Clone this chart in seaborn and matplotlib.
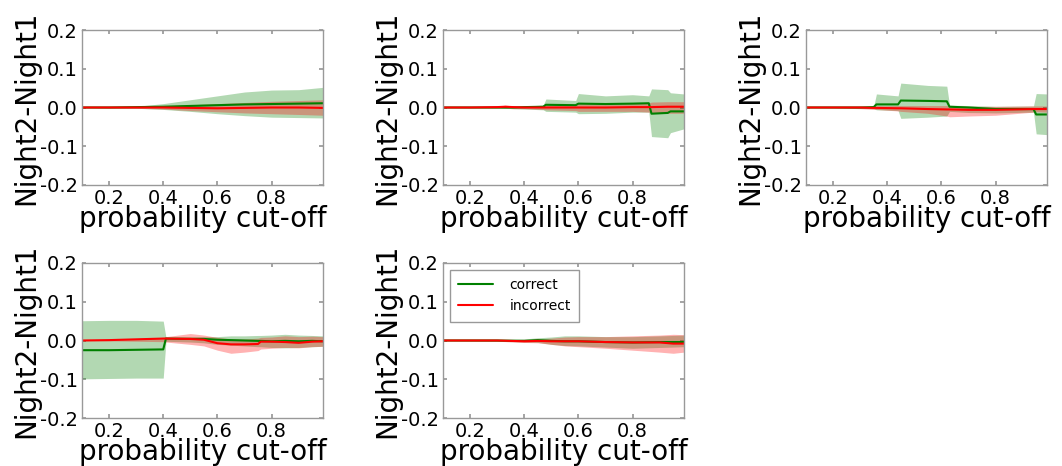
import numpy as np
import pandas as pd
import matplotlib
matplotlib.use("Agg")
import matplotlib.pyplot as plt
import seaborn as sns

# ---- panel 1 ----
p1_x = [0.10, 0.20, 0.30, 0.40, 0.50, 0.60, 0.70, 0.80, 0.90, 0.99]
p1_cor = [0, 0, 0.001, 0.002, 0.004, 0.006, 0.008, 0.009, 0.010, 0.011]
p1_cor_hi = [0, 0.001, 0.003, 0.010, 0.020, 0.030, 0.040, 0.045, 0.046, 0.052]
p1_cor_lo = [0, -0.001, -0.002, -0.005, -0.010, -0.016, -0.021, -0.025, -0.026, -0.027]
p1_inc = [0, 0, 0, 0, -0.001, -0.002, -0.001, 0, 0, -0.001]
p1_inc_hi = [0, 0.001, 0.002, 0.004, 0.007, 0.010, 0.013, 0.016, 0.018, 0.020]
p1_inc_lo = [0, -0.001, -0.002, -0.004, -0.008, -0.011, -0.014, -0.016, -0.018, -0.020]

# ---- panel 2 ----
p2_x = [0.10, 0.20, 0.30, 0.33, 0.36, 0.40, 0.47, 0.48, 0.59, 0.60, 0.70, 0.80, 0.86, 0.87, 0.93, 0.94, 0.99]
p2_cor = [0, 0, 0, 0, 0, 0.001, 0.002, 0.007, 0.006, 0.010, 0.009, 0.010, 0.011, -0.016, -0.014, -0.010, -0.010]
p2_cor_hi = [0, 0, 0.001, 0.002, 0.002, 0.004, 0.006, 0.022, 0.018, 0.036, 0.030, 0.033, 0.030, 0.048, 0.046, 0.038, 0.035]
p2_cor_lo = [0, 0, -0.001, -0.002, -0.003, -0.004, -0.006, -0.010, -0.012, -0.016, -0.015, -0.012, -0.012, -0.075, -0.078, -0.065, -0.055]
p2_inc = [0, 0, 0.001, 0.002, 0.001, 0, 0, 0, 0, 0, 0, 0.001, 0.001, 0.001, 0.002, 0.002, 0.002]
p2_inc_hi = [0, 0.001, 0.003, 0.006, 0.004, 0.003, 0.004, 0.006, 0.008, 0.010, 0.009, 0.010, 0.012, 0.014, 0.015, 0.015, 0.015]
p2_inc_lo = [0, -0.001, -0.002, -0.002, -0.003, -0.003, -0.005, -0.006, -0.008, -0.010, -0.010, -0.010, -0.012, -0.014, -0.015, -0.015, -0.015]

# ---- panel 3 ----
p3_x = [0.10, 0.20, 0.30, 0.35, 0.36, 0.44, 0.45, 0.55, 0.62, 0.63, 0.70, 0.80, 0.94, 0.95, 0.99]
p3_cor = [0, 0, 0, 0.001, 0.008, 0.008, 0.018, 0.017, 0.016, 0.002, 0.000, -0.004, -0.004, -0.018, -0.018]
p3_cor_hi = [0, 0, 0.002, 0.003, 0.035, 0.030, 0.063, 0.057, 0.055, 0.006, 0.005, 0.003, 0.004, 0.036, 0.035]
p3_cor_lo = [0, 0, -0.002, -0.003, -0.006, -0.008, -0.028, -0.025, -0.022, -0.010, -0.013, -0.014, -0.012, -0.068, -0.070]
p3_inc = [0, 0, 0, -0.001, -0.001, -0.002, -0.002, -0.004, -0.005, -0.005, -0.006, -0.006, -0.004, -0.004, -0.004]
p3_inc_hi = [0, 0.001, 0.003, 0.004, 0.004, 0.005, 0.005, 0.005, 0.005, 0.005, 0.003, 0.003, 0.004, 0.004, 0.004]
p3_inc_lo = [0, -0.001, -0.003, -0.005, -0.005, -0.009, -0.010, -0.015, -0.022, -0.024, -0.022, -0.020, -0.012, -0.011, -0.012]

# ---- panel 4 ----
p4_x = [0.10, 0.20, 0.30, 0.40, 0.41, 0.50, 0.55, 0.60, 0.65, 0.70, 0.75, 0.76, 0.80, 0.85, 0.90, 0.95, 0.99]
p4_cor = [-0.025, -0.025, -0.024, -0.023, 0.005, 0.004, 0.004, 0.002, 0.001, 0, -0.001, -0.001, -0.002, -0.001, -0.002, -0.001, -0.002]
p4_cor_hi = [0.051, 0.052, 0.052, 0.050, 0.008, 0.010, 0.010, 0.010, 0.012, 0.012, 0.013, 0.013, 0.014, 0.016, 0.014, 0.013, 0.012]
p4_cor_lo = [-0.099, -0.098, -0.097, -0.097, -0.002, -0.004, -0.006, -0.010, -0.012, -0.014, -0.016, -0.016, -0.018, -0.019, -0.018, -0.016, -0.015]
p4_inc = [0, 0.001, 0.003, 0.005, 0.005, 0.004, 0.002, -0.007, -0.010, -0.010, -0.009, -0.003, -0.003, -0.004, -0.006, -0.003, -0.002]
p4_inc_hi = [0, 0.002, 0.005, 0.008, 0.010, 0.018, 0.014, 0.008, 0.004, 0.004, 0.006, 0.008, 0.009, 0.012, 0.010, 0.011, 0.010]
p4_inc_lo = [0, -0.001, -0.002, -0.003, -0.004, -0.010, -0.014, -0.025, -0.033, -0.030, -0.026, -0.022, -0.020, -0.018, -0.019, -0.016, -0.015]

# ---- panel 5 ----
p5_x = [0.10, 0.20, 0.30, 0.40, 0.45, 0.50, 0.55, 0.60, 0.70, 0.80, 0.90, 0.95, 0.99]
p5_cor = [0, 0, 0, -0.001, 0.001, -0.001, -0.002, -0.002, -0.004, -0.005, -0.004, -0.004, -0.004]
p5_cor_hi = [0, 0.001, 0.002, 0.004, 0.007, 0.009, 0.012, 0.012, 0.010, 0.010, 0.012, 0.013, 0.014]
p5_cor_lo = [0, -0.001, -0.002, -0.004, -0.005, -0.010, -0.013, -0.014, -0.017, -0.020, -0.018, -0.017, -0.016]
p5_inc = [0, 0, 0, -0.002, -0.001, -0.002, -0.002, -0.002, -0.004, -0.005, -0.005, -0.008, -0.008]
p5_inc_hi = [0, 0.001, 0.002, 0.003, 0.004, 0.006, 0.009, 0.010, 0.010, 0.012, 0.014, 0.016, 0.015]
p5_inc_lo = [0, -0.001, -0.002, -0.005, -0.006, -0.010, -0.014, -0.016, -0.020, -0.025, -0.030, -0.033, -0.030]

panels = [
    (p1_x, p1_cor, p1_cor_lo, p1_cor_hi, p1_inc, p1_inc_lo, p1_inc_hi),
    (p2_x, p2_cor, p2_cor_lo, p2_cor_hi, p2_inc, p2_inc_lo, p2_inc_hi),
    (p3_x, p3_cor, p3_cor_lo, p3_cor_hi, p3_inc, p3_inc_lo, p3_inc_hi),
    (p4_x, p4_cor, p4_cor_lo, p4_cor_hi, p4_inc, p4_inc_lo, p4_inc_hi),
    (p5_x, p5_cor, p5_cor_lo, p5_cor_hi, p5_inc, p5_inc_lo, p5_inc_hi),
]

y_ticks = [-0.2, -0.1, 0.0, 0.1, 0.2]
x_ticks = [0.2, 0.4, 0.6, 0.8]

sns.set_theme(style="white", rc={
    "axes.edgecolor": "0.6",
    "axes.linewidth": 1.0,
    "axes.labelcolor": "black",
    "text.color": "black",
    "xtick.direction": "in",
    "ytick.direction": "in",
    "xtick.top": True,
    "ytick.right": True,
    "xtick.bottom": True,
    "ytick.left": True,
    "xtick.color": "0.6",
    "ytick.color": "0.6",
    "xtick.labelcolor": "black",
    "ytick.labelcolor": "black",
    "xtick.major.size": 3,
    "ytick.major.size": 3,
    "xtick.major.pad": 3,
    "ytick.major.pad": 3,
})
plt.rcParams["font.family"] = ["DejaVu Sans"]

GREEN = (0.0, 0.5, 0.0)
RED = (1.0, 0.0, 0.0)

fig = plt.figure(figsize=(10.62, 4.66), dpi=100)
W, H = 1062, 466
lefts = [82, 443, 806]
ax_w, ax_h = 241, 155
tops = [30, 263]
positions = [(lefts[0], tops[0]), (lefts[1], tops[0]), (lefts[2], tops[0]),
             (lefts[0], tops[1]), (lefts[1], tops[1])]

for i, ((px, py), data) in enumerate(zip(positions, panels)):
    x, cor, cor_lo, cor_hi, inc, inc_lo, inc_hi = data
    ax = fig.add_axes([px / W, 1 - (py + ax_h) / H, ax_w / W, ax_h / H])
    ax.fill_between(x, cor_lo, cor_hi, color=GREEN, alpha=0.3, linewidth=0)
    ax.fill_between(x, inc_lo, inc_hi, color=RED, alpha=0.3, linewidth=0)
    df = pd.DataFrame({"x": list(x) * 2,
                       "y": list(cor) + list(inc),
                       "kind": ["correct"] * len(x) + ["incorrect"] * len(x)})
    sns.lineplot(data=df, x="x", y="y", hue="kind",
                 palette={"correct": GREEN, "incorrect": RED},
                 linewidth=1.5, ax=ax, legend=(i == 4), estimator=None)
    ax.set_xlim(0.1, 0.99)
    ax.set_ylim(-0.2, 0.2)
    ax.set_xticks(x_ticks)
    ax.set_yticks(y_ticks)
    ax.set_xticklabels([f"{t:.1f}" for t in x_ticks], fontsize=14)
    ax.set_yticklabels([f"{t:.1f}" for t in y_ticks], fontsize=14)
    ax.set_xlabel("probability cut-off", fontsize=20, labelpad=-2)
    ax.set_ylabel("Night2-Night1", fontsize=20, labelpad=0)
    if i == 4:
        leg = ax.legend(loc="upper left", fontsize=10, frameon=True,
                        fancybox=False, borderpad=0.6, handlelength=2.5,
                        handletextpad=1.2)
        leg.get_frame().set_edgecolor("0.5")
        leg.get_frame().set_linewidth(1.0)
        for t in leg.get_texts():
            t.set_color("black")

fig.savefig("out.png", dpi=100)
